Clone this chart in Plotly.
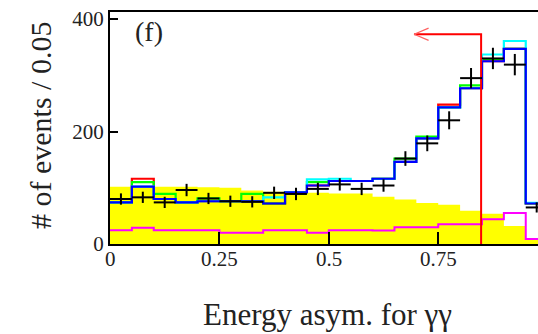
import plotly.graph_objects as go

# ---------------- data ----------------
bin_lo = 0.0
bin_width = 0.05
n_bins = 20

data_counts = [80, 83, 74, 96, 81, 76, 75, 91, 89, 98, 106, 98, 104, 152, 179, 220, 295, 330, 319, 65]
data_err    = [10, 10, 10, 11, 10, 10, 10, 11, 11, 11, 11, 11, 11, 13, 14, 16, 18, 19, 19, 9]

bkg_yellow = [102, 102, 102, 102, 101, 100, 95, 93, 91, 91, 90, 90, 84, 79, 73, 70, 59, 54, 32, 9]
bkg_magenta = [24.5, 29, 24.5, 24.5, 24.5, 20, 20, 24.5, 24.5, 20, 24.5, 24.5, 24, 30, 30, 35, 35, 44, 55, 9]

mc_blue  = [74, 102, 80, 74, 76, 76, 76, 72, 92, 104, 112, 112, 116, 146, 188, 243, 277, 325, 347, 72]
mc_green = [74, 110, 89, 74, 81, 76, 89, 72, 92, 110, 112, 112, 116, 152, 191, 243, 282, 329, 347, 72]
mc_cyan  = [74, 102, 80, 74, 76, 76, 76, 83, 92, 115, 116, 112, 116, 146, 188, 243, 277, 337, 361, 73]
mc_red   = [74, 116, 80, 74, 76, 76, 76, 72, 92, 104, 112, 112, 116, 146, 188, 248, 277, 325, 347, 72]

cut_value = 0.848
arrow_level = 373
arrow_end = 0.695
arrow_head_dx = 0.033
arrow_head_dy = 11

x_ticks = [0, 0.25, 0.5, 0.75]
x_ticklabels = ["0", "0.25", "0.5", "0.75"]
y_ticks = [0, 200, 400]
y_ticklabels = ["0", "200", "400"]

x_title = "Energy asym. for γγ"
y_title = "# of events / 0.05"
panel_label = "(f)"

# ---------------- derived ----------------
edges = [bin_lo + i * bin_width for i in range(n_bins + 1)]
centers = [bin_lo + (i + 0.5) * bin_width for i in range(n_bins)]


def step(vals):
    return edges, list(vals) + [vals[-1]]


FONT = "Liberation Serif"
TXT = "#222222"
fig = go.Figure()

# yellow filled background
sx, sy = step(bkg_yellow)
fig.add_trace(go.Scatter(x=sx, y=sy, mode="lines", line=dict(shape="hv", width=0, color="#ffff00"),
                         fill="tozeroy", fillcolor="#ffff00", hoverinfo="skip"))

# magenta
sx, sy = step(bkg_magenta)
fig.add_trace(go.Scatter(x=sx, y=sy, mode="lines", line=dict(shape="hv", width=2, color="#ff00ff")))

# MC histograms
for vals, col in [(mc_red, "#ff0000"), (mc_green, "#00ff00"), (mc_cyan, "#00ffff"), (mc_blue, "#0000ff")]:
    sx, sy = step(vals)
    fig.add_trace(go.Scatter(x=sx, y=sy, mode="lines", line=dict(shape="hv", width=2.2, color=col)))

# cut line with arrow
fig.add_trace(go.Scatter(x=[cut_value, cut_value, arrow_end], y=[0, arrow_level, arrow_level],
                         mode="lines", line=dict(color="#ff0000", width=2)))
fig.add_trace(go.Scatter(x=[arrow_end + arrow_head_dx, arrow_end, arrow_end + arrow_head_dx],
                         y=[arrow_level + arrow_head_dy, arrow_level, arrow_level - arrow_head_dy],
                         mode="lines", line=dict(color="#ff6060", width=1.3)))

# data points
fig.add_trace(go.Scatter(
    x=centers, y=data_counts, mode="markers",
    marker=dict(size=1, color="black"),
    error_x=dict(type="constant", value=bin_width / 2, thickness=2, width=0, color="black"),
    error_y=dict(type="data", array=data_err, thickness=2, width=0, color="black"),
))

annotations = [
    dict(text=x_title, xref="paper", yref="paper", x=0.508, y=-0.305,
         xanchor="center", yanchor="middle", showarrow=False,
         font=dict(family=FONT, size=31, color=TXT)),
    dict(text=y_title, xref="paper", yref="paper", x=-0.164, y=0.512,
         xanchor="center", yanchor="middle", showarrow=False, textangle=-90,
         font=dict(family=FONT, size=30, color=TXT)),
    dict(text=panel_label, xref="paper", yref="paper", x=0.091, y=0.918,
         xanchor="center", yanchor="middle", showarrow=False,
         font=dict(family=FONT, size=28, color=TXT)),
]
# x tick labels placed closer to the axis than plotly's default
for tv, tt in zip(x_ticks, x_ticklabels):
    annotations.append(dict(text=tt, x=tv, xref="x", y=0, yref="paper",
                            xanchor="center", yanchor="middle", yshift=-15, showarrow=False,
                            font=dict(family=FONT, size=21, color=TXT)))

fig.update_layout(
    width=538, height=334,
    margin=dict(l=110, r=0, t=12, b=90),
    paper_bgcolor="white", plot_bgcolor="white",
    showlegend=False,
    font=dict(family=FONT, color=TXT, size=21),
    xaxis=dict(range=[0, 0.978], tickvals=x_ticks, showticklabels=False,
               ticks="inside", ticklen=12, tickwidth=2, tickcolor="black",
               showline=True, linewidth=2, linecolor="black", mirror=True,
               showgrid=False, zeroline=False),
    yaxis=dict(range=[0, 412.6], tickvals=y_ticks, ticktext=y_ticklabels,
               ticks="inside", ticklen=8, tickwidth=2, tickcolor="black",
               showline=True, linewidth=2, linecolor="black",
               showgrid=False, zeroline=False,
               tickfont=dict(family=FONT, size=21, color=TXT)),
    annotations=annotations,
)

fig.write_html("out.html")
